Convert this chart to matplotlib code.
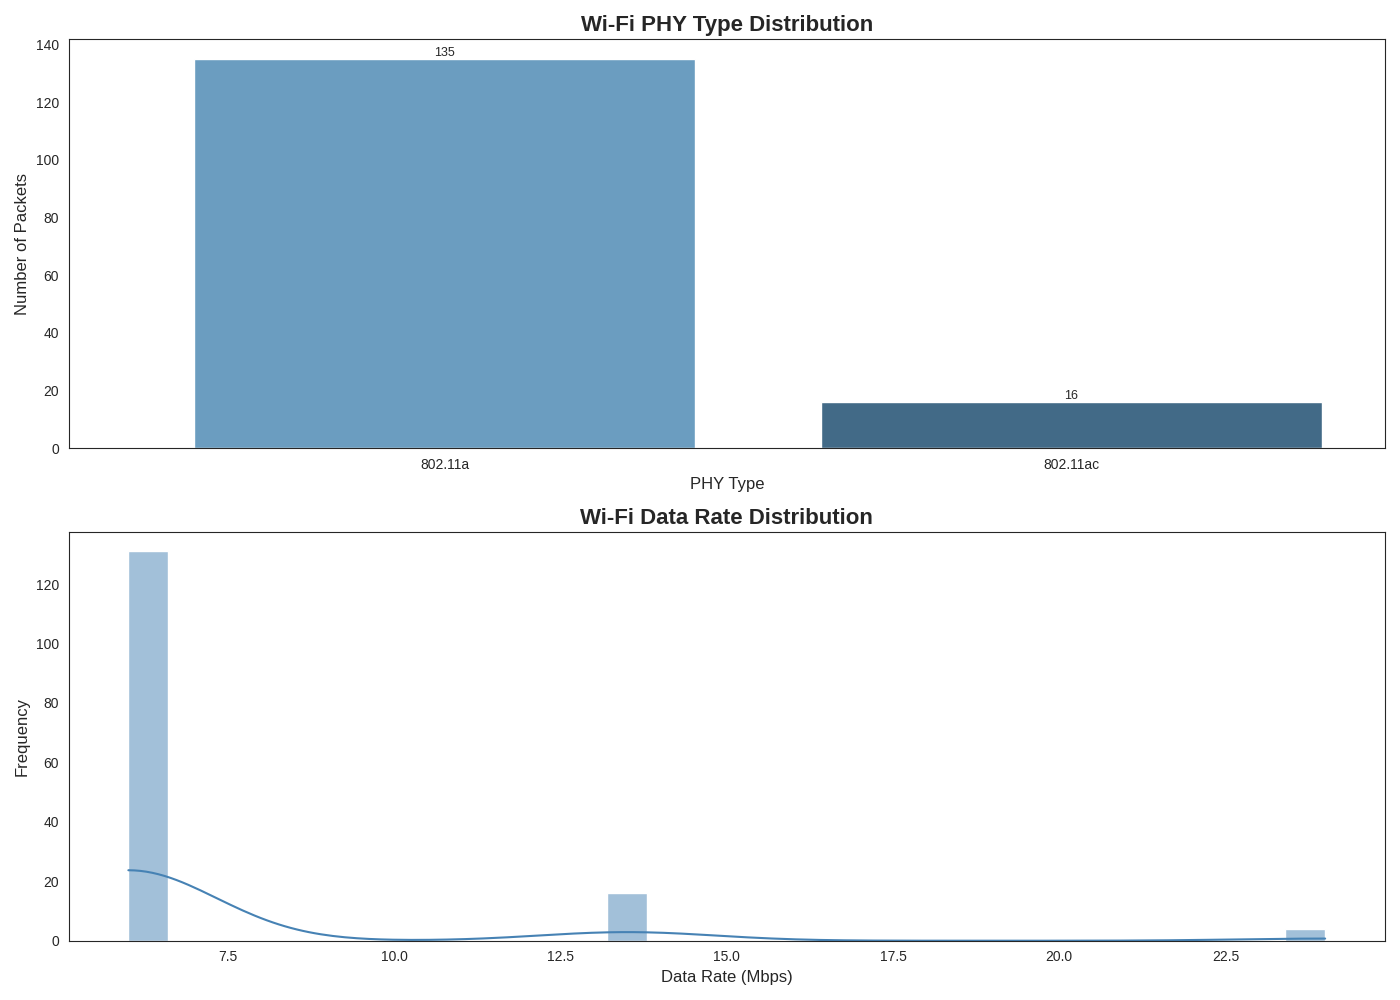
import numpy as np
import matplotlib
matplotlib.use("Agg")
import matplotlib.pyplot as plt
import seaborn as sns

sns.set_style("white")
plt.rcParams['font.family'] = ['Liberation Sans', 'DejaVu Sans']

# PHY type counts
phy_types = ["802.11a", "802.11ac"]
phy_counts = [135, 16]
phy_colors = ["#6b9dc0", "#426a87"]

# Data rate samples (Mbps) and how often each appears
rate_values = [6.0, 13.5, 24.0]
rate_counts = [131, 16, 4]
rates = np.repeat(rate_values, rate_counts)

fig, (ax1, ax2) = plt.subplots(2, 1, figsize=(14, 10))

bars = ax1.bar(phy_types, phy_counts, color=phy_colors, width=0.8)
for b, c in zip(bars, phy_counts):
    ax1.text(b.get_x() + b.get_width() / 2, c, str(c), ha="center", va="bottom", fontsize=9)
ax1.set_title("Wi-Fi PHY Type Distribution", fontsize=16, fontweight="bold")
ax1.set_xlabel("PHY Type", fontsize=12)
ax1.set_ylabel("Number of Packets", fontsize=12)
ax1.set_xlim(-0.6, 1.5)

sns.histplot(rates, bins=30, kde=True, color="steelblue", alpha=0.5,
             edgecolor="white", ax=ax2)
ax2.set_title("Wi-Fi Data Rate Distribution", fontsize=16, fontweight="bold")
ax2.set_xlabel("Data Rate (Mbps)", fontsize=12)
ax2.set_ylabel("Frequency", fontsize=12)

plt.tight_layout()
plt.savefig("out.png", dpi=100)
